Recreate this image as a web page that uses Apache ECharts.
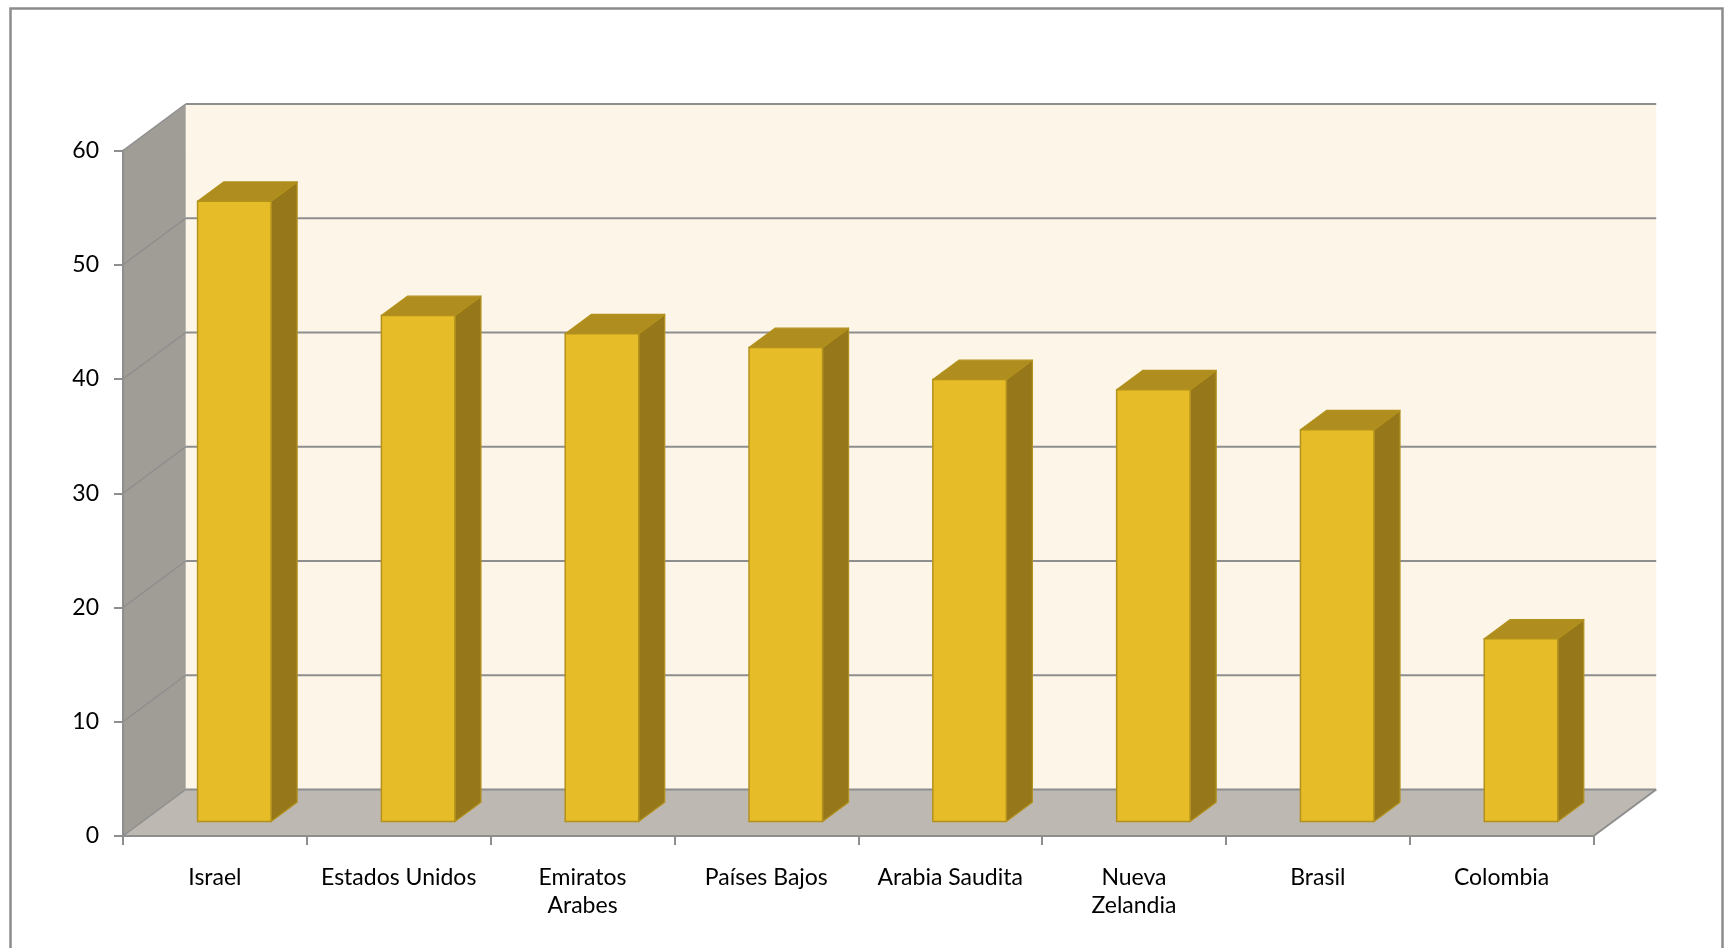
<!DOCTYPE html>
<html><head><meta charset="utf-8">
<script src="https://cdn.jsdelivr.net/npm/echarts@6/dist/echarts.min.js"></script>
<style>html,body{margin:0;padding:0;background:#fff}#c{width:1725px;height:948px}</style>
</head><body><div id="c"></div><script>
// ---- data ----
const categories = ['Israel', 'Estados Unidos', 'Emiratos\nArabes', 'Países Bajos', 'Arabia Saudita', 'Nueva\nZelandia', 'Brasil', 'Colombia'];
const values = [54.3, 44.3, 42.7, 41.5, 38.7, 37.8, 34.3, 16.0];
const yTicks = [0, 10, 20, 30, 40, 50, 60];

// ---- style ----
const DX = 62.7, DY = -46.5;        // depth offset of the back wall
const FRONT = 0.31, BDEPTH = 0.415; // bar position in depth
const BARW = 0.4;                   // bar width fraction of band
const GRID_COLOR = '#8e8e8e';
const FONT = 'Lato, "Noto Sans", sans-serif';

const chart = echarts.init(document.getElementById('c'), null, {renderer: 'canvas'});

function renderWalls(params, api) {
  const cs = params.coordSys;
  const x0 = cs.x, x1 = cs.x + cs.width, yT = cs.y, yB = cs.y + cs.height;
  return {
    type: 'group',
    children: [
      {type: 'rect', shape: {x: x0 + DX, y: yT + DY, width: cs.width, height: cs.height}, style: {fill: '#FCF5E8'}},
      {type: 'polygon', shape: {points: [[x0, yT], [x0 + DX, yT + DY], [x0 + DX, yB + DY], [x0, yB]]}, style: {fill: '#A09C96'}},
      {type: 'polygon', shape: {points: [[x0, yB], [x1, yB], [x1 + DX, yB + DY], [x0 + DX, yB + DY]]}, style: {fill: '#BDB9B2'}},
      {type: 'line', shape: {x1: x1, y1: yB, x2: x1 + DX, y2: yB + DY}, style: {stroke: GRID_COLOR, lineWidth: 2}}
    ]
  };
}

function renderGrid(params, api) {
  const cs = params.coordSys;
  const p = api.coord([0, api.value(1)]);
  const y = p[1];
  const x0 = cs.x, x1 = cs.x + cs.width;
  return {
    type: 'group',
    children: [
      {type: 'line', shape: {x1: x0 + DX, y1: y + DY, x2: x1 + DX, y2: y + DY}, style: {stroke: GRID_COLOR, lineWidth: 2}},
      {type: 'line', shape: {x1: x0, y1: y, x2: x0 + DX, y2: y + DY}, style: {stroke: GRID_COLOR, lineWidth: 1.5}}
    ]
  };
}

function renderBar(params, api) {
  const i = api.value(0), v = api.value(1);
  const base = api.coord([i, 0]);
  const top = api.coord([i, v]);
  const bw = api.size([1, 0])[0];
  const w = bw * BARW;
  const ox = DX * FRONT, oy = DY * FRONT;
  const x0 = base[0] - w / 2 + ox, x1 = x0 + w;
  const yb = base[1] + oy, yt = top[1] + oy;
  const ddx = DX * BDEPTH, ddy = DY * BDEPTH;
  const edge = '#B3911D';
  return {
    type: 'group',
    children: [
      {type: 'polygon', shape: {points: [[x1, yt], [x1 + ddx, yt + ddy], [x1 + ddx, yb + ddy], [x1, yb]]},
        style: {fill: '#96781A', stroke: edge, lineWidth: 1.2, lineJoin: 'round'}},
      {type: 'polygon', shape: {points: [[x0, yt], [x1, yt], [x1 + ddx, yt + ddy], [x0 + ddx, yt + ddy]]},
        style: {fill: '#AF8D1E', stroke: edge, lineWidth: 1.2, lineJoin: 'round'}},
      {type: 'rect', shape: {x: x0, y: yt, width: w, height: yb - yt},
        style: {fill: '#E7BC29', stroke: edge, lineWidth: 1.5}}
    ]
  };
}

const option = {
  animation: false,
  backgroundColor: '#ffffff',
  graphic: [{
    type: 'rect', left: 8, top: 6, z: 100, silent: true,
    shape: {width: 1712, height: 1000},
    style: {fill: 'none', stroke: '#8c8c8c', lineWidth: 2.5}
  }],
  grid: {left: 123, right: 131.5, top: 150.5, bottom: 112, containLabel: false},
  xAxis: {
    type: 'category', data: categories, boundaryGap: true, z: 5,
    axisLine: {show: true, lineStyle: {color: GRID_COLOR, width: 2}},
    axisTick: {show: true, length: 9, lineStyle: {color: GRID_COLOR, width: 2}},
    axisLabel: {color: '#000', fontFamily: FONT, fontSize: 23, lineHeight: 28, margin: 28, interval: 0},
    splitLine: {show: false}
  },
  yAxis: {
    type: 'value', min: 0, max: 60, interval: 10, z: 5,
    axisLine: {show: true, lineStyle: {color: GRID_COLOR, width: 2}},
    axisTick: {show: true, length: 9, lineStyle: {color: GRID_COLOR, width: 2}},
    axisLabel: {color: '#000', fontFamily: FONT, fontSize: 23, margin: 24},
    splitLine: {show: false}
  },
  series: [
    {type: 'custom', z: 1, renderItem: renderWalls, data: [[0, 0]], silent: true},
    {type: 'custom', z: 2, renderItem: renderGrid, data: yTicks.map(t => [0, t]), silent: true},
    {type: 'custom', z: 3, renderItem: renderBar, data: values.map((v, i) => [i, v])}
  ]
};
chart.setOption(option);
</script></body></html>
